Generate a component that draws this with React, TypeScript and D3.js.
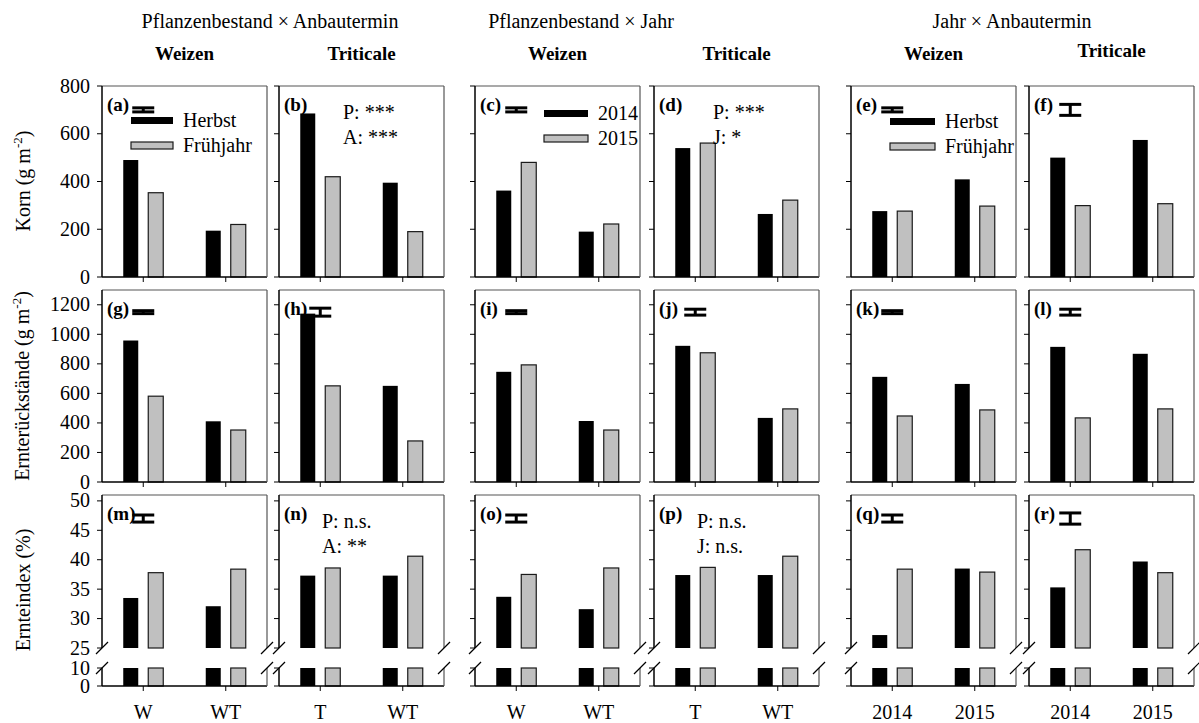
import React from "react";
import * as d3 from "d3";

// ---------- data ----------
const headers = ["Pflanzenbestand × Anbautermin", "Pflanzenbestand × Jahr", "Jahr × Anbautermin"];
const columnTitles = ["Weizen", "Triticale", "Weizen", "Triticale", "Weizen", "Triticale"];
const columnCategories = [
  ["W", "WT"],
  ["T", "WT"],
  ["W", "WT"],
  ["T", "WT"],
  ["2014", "2015"],
  ["2014", "2015"],
];
const panelLetters = [
  ["a", "b", "c", "d", "e", "f"],
  ["g", "h", "i", "j", "k", "l"],
  ["m", "n", "o", "p", "q", "r"],
];
const seriesKeys = ["dark", "light"];

// Korn (g m-2)
const kornDark = [[490, 194], [685, 395], [362, 190], [540, 264], [276, 409], [500, 574]];
const kornLight = [[353, 220], [420, 190], [480, 222], [561, 322], [276, 297], [299, 307]];
const kornLsd = [17, null, 17, null, 17, 46];
const kornTicks = [0, 200, 400, 600, 800];

// Ernterückstände (g m-2)
const rueckDark = [[958, 411], [1140, 651], [746, 413], [922, 434], [712, 664], [915, 868]];
const rueckLight = [[581, 352], [651, 278], [793, 352], [875, 495], [447, 488], [434, 495]];
const rueckLsd = [20, 54, 20, 40, 20, 40];
const rueckTicks = [0, 200, 400, 600, 800, 1000, 1200];

// Ernteindex (%)
const indexDark = [[33.5, 32.1], [37.3, 37.3], [33.7, 31.6], [37.4, 37.4], [27.2, 38.5], [35.3, 39.7]];
const indexLight = [[37.8, 38.4], [38.6, 40.6], [37.5, 38.6], [38.7, 40.6], [38.4, 37.9], [41.7, 37.8]];
const indexLsd = [1.2, null, 1.2, null, 1.2, 1.9];
const indexTicksUpper = [25, 30, 35, 40, 45, 50];
const indexTicksLower = [0, 10];

// legends and statistics text
const legendAnbau = ["Herbst", "Frühjahr"];
const legendJahr = ["2014", "2015"];
const statTexts: Record<string, string[]> = {
  b: ["P: ***", "A: ***"],
  d: ["P: ***", "J: *"],
  n: ["P: n.s.", "A: **"],
  p: ["P: n.s.", "J: n.s."],
};

// ---------- layout ----------
const FONT = "'Liberation Serif', 'Times New Roman', serif";
const W = 1199;
const H = 723;
const panelLefts = [102, 279, 475, 654, 851, 1029];
const panelW = 165;
const DARK = "#000000";
const LIGHT = "#c0c0c0";
const FRAME2 = "#555555";

const yKorn = d3.scaleLinear().domain([0, 800]).range([277, 86]);
const yRueck = d3.scaleLinear().domain([0, 1300]).range([482, 290]);
const yIdxUp = d3.scaleLinear().domain([25, 51]).range([648, 495]);
const yIdxLow = d3.scaleLinear().domain([0, 10]).range([686, 668]);

const legendPos: Record<string, { dx: number; dy: number; w: number; labels: string[] }> = {
  a: { dx: 29, dy: 31, w: 42, labels: legendAnbau },
  c: { dx: 69, dy: 24, w: 44, labels: legendJahr },
  e: { dx: 39, dy: 32, w: 45, labels: legendAnbau },
};

function App() {
  const els: React.ReactNode[] = [];

  const rows = [
    { dark: kornDark, light: kornLight, lsd: kornLsd, lsdCenter: 700, y: yKorn, ticks: kornTicks, broken: false },
    { dark: rueckDark, light: rueckLight, lsd: rueckLsd, lsdCenter: 1150, y: yRueck, ticks: rueckTicks, broken: false },
    { dark: indexDark, light: indexLight, lsd: indexLsd, lsdCenter: 47, y: yIdxUp, ticks: indexTicksUpper, broken: true },
  ];

  rows.forEach((row, r) => {
    const y = row.y;
    const top = y.range()[1];
    const bottom = row.broken ? yIdxLow(0) : y(0);
    columnCategories.forEach((cats, c) => {
      const left = panelLefts[c];
      const right = left + panelW;
      const letter = panelLetters[r][c];
      const key = `p${r}${c}`;
      const x = d3.scaleBand().domain(cats).range([left, right]);
      const xs = d3.scaleBand().domain(seriesKeys).range([-20, 20]).paddingInner(0.4);

      // bars
      cats.forEach((cat, i) => {
        const gc = (x(cat) as number) + x.bandwidth() / 2;
        seriesKeys.forEach((s) => {
          const v = s === "dark" ? row.dark[c][i] : row.light[c][i];
          const bx = gc + (xs(s) as number);
          const fill = s === "dark" ? DARK : LIGHT;
          const stroke = s === "dark" ? "none" : "#1a1a1a";
          if (!row.broken) {
            els.push(
              <rect key={`${key}b${i}${s}`} x={bx} y={y(v)} width={xs.bandwidth()} height={y(0) - y(v)}
                fill={fill} stroke={stroke} strokeWidth={1.2} />
            );
          } else {
            els.push(
              <rect key={`${key}bu${i}${s}`} x={bx} y={y(v)} width={xs.bandwidth()} height={y(25) - y(v)}
                fill={fill} stroke={stroke} strokeWidth={1.2} />
            );
            const lv = Math.min(v, 10);
            els.push(
              <rect key={`${key}bl${i}${s}`} x={bx} y={yIdxLow(lv)} width={xs.bandwidth()} height={yIdxLow(0) - yIdxLow(lv)}
                fill={fill} stroke={stroke} strokeWidth={1.2} />
            );
          }
        });
        // x ticks
        els.push(<line key={`${key}xt${i}`} x1={gc} x2={gc} y1={bottom} y2={bottom + 5} stroke="#000" strokeWidth={1} />);
        if (r === 2) {
          els.push(
            <text key={`${key}xl${i}`} x={gc} y={719} textAnchor="middle" fontSize={20} fontFamily={FONT}>{cat}</text>
          );
        }
      });

      // frame
      const gapTop = yIdxUp(25);
      const gapBot = yIdxLow(10);
      els.push(<line key={`${key}ft`} x1={left} x2={right} y1={top} y2={top} stroke={FRAME2} strokeWidth={1.2} />);
      els.push(<line key={`${key}fb`} x1={left} x2={right} y1={bottom} y2={bottom} stroke="#000" strokeWidth={1.5} />);
      if (!row.broken) {
        els.push(<line key={`${key}fl`} x1={left} x2={left} y1={top} y2={bottom} stroke="#000" strokeWidth={1.5} />);
        els.push(<line key={`${key}fr`} x1={right} x2={right} y1={top} y2={bottom} stroke={FRAME2} strokeWidth={1.2} />);
      } else {
        els.push(<line key={`${key}fl1`} x1={left} x2={left} y1={top} y2={gapTop} stroke="#000" strokeWidth={1.5} />);
        els.push(<line key={`${key}fl2`} x1={left} x2={left} y1={gapBot} y2={bottom} stroke="#000" strokeWidth={1.5} />);
        els.push(<line key={`${key}fr1`} x1={right} x2={right} y1={top} y2={gapTop} stroke={FRAME2} strokeWidth={1.2} />);
        els.push(<line key={`${key}fr2`} x1={right} x2={right} y1={gapBot} y2={bottom} stroke={FRAME2} strokeWidth={1.2} />);
        [left, right].forEach((bxp, k) => {
          [gapTop, gapBot].forEach((gy, m) => {
            els.push(
              <line key={`${key}brk${k}${m}`} x1={bxp - 6} y1={gy + 6} x2={bxp + 6} y2={gy - 6} stroke="#000" strokeWidth={1.2} />
            );
          });
        });
      }

      // y ticks
      const tickSets = row.broken
        ? [
            { s: yIdxUp, t: indexTicksUpper },
            { s: yIdxLow, t: indexTicksLower },
          ]
        : [{ s: y, t: row.ticks }];
      tickSets.forEach((ts, k) => {
        ts.t.forEach((t) => {
          const ty = ts.s(t);
          els.push(<line key={`${key}yt${k}${t}`} x1={left - 5} x2={left} y1={ty} y2={ty} stroke="#000" strokeWidth={1} />);
          if (c === 0) {
            els.push(
              <text key={`${key}yl${k}${t}`} x={left - 12} y={ty + 6.5} textAnchor="end" fontSize={20} fontFamily={FONT}>{t}</text>
            );
          }
        });
      });

      // panel letter
      els.push(
        <text key={`${key}lab`} x={left + 5} y={top + 25} fontSize={19} fontWeight="bold" fontFamily={FONT}>({letter})</text>
      );

      // LSD bar
      const lsd = row.lsd[c];
      if (lsd != null) {
        const cx = (x(cats[0]) as number) + x.bandwidth() / 2;
        const y1 = y(row.lsdCenter + lsd / 2);
        const y2 = y(row.lsdCenter - lsd / 2);
        els.push(
          <g key={`${key}lsd`} stroke="#000" strokeWidth={3}>
            <line x1={cx - 11} x2={cx + 11} y1={y1} y2={y1} />
            <line x1={cx - 11} x2={cx + 11} y1={y2} y2={y2} />
            <line x1={cx} x2={cx} y1={y1} y2={y2} />
          </g>
        );
      }

      // legend
      const lg = legendPos[letter];
      if (lg) {
        lg.labels.forEach((lab, k) => {
          const ry = top + lg.dy + k * 25;
          els.push(
            <rect key={`${key}lgr${k}`} x={left + lg.dx} y={ry} width={lg.w} height={7}
              fill={k === 0 ? DARK : LIGHT} stroke={k === 0 ? "none" : "#1a1a1a"} strokeWidth={1.2} />
          );
          els.push(
            <text key={`${key}lgt${k}`} x={left + lg.dx + lg.w + 10} y={ry + 10} fontSize={20} fontFamily={FONT}>{lab}</text>
          );
        });
      }

      // statistics text
      const st = statTexts[letter];
      if (st) {
        const sx = r === 0 ? (c === 1 ? 64 : 59) : 43;
        st.forEach((s, k) => {
          els.push(
            <text key={`${key}st${k}`} x={left + sx} y={top + 33 + k * 25} fontSize={20} fontFamily={FONT}>{s}</text>
          );
        });
      }

      // column titles
      if (r === 0) {
        els.push(
          <text key={`${key}title`} x={(left + right) / 2} y={c === 5 ? 57 : 60} textAnchor="middle" fontSize={19}
            fontWeight="bold" fontFamily={FONT}>{columnTitles[c]}</text>
        );
      }
    });
  });

  // headers
  const headerX = [270, 581, 1012];
  headers.forEach((h, i) => {
    els.push(
      <text key={`hd${i}`} x={headerX[i]} y={28} textAnchor="middle" fontSize={20} fontFamily={FONT}>{h}</text>
    );
  });

  // y axis labels
  const yLabels = [
    { cx: 30, cy: 181, main: "Korn (g m", sup: "-2", tail: ")" },
    { cx: 29, cy: 386, main: "Ernterückstände (g m", sup: "-2", tail: ")" },
    { cx: 30, cy: 590, main: "Ernteindex (%)", sup: "", tail: "" },
  ];
  yLabels.forEach((l, i) => {
    els.push(
      <text key={`yl${i}`} transform={`translate(${l.cx},${l.cy}) rotate(-90)`} textAnchor="middle" fontSize={20} fontFamily={FONT}>
        {l.main}
        {l.sup ? <tspan dy={-8} fontSize={13}>{l.sup}</tspan> : null}
        {l.tail ? <tspan dy={8}>{l.tail}</tspan> : null}
      </text>
    );
  });

  return (
    <div style={{ position: "absolute", left: 0, top: 0 }}>
      <svg width={W} height={H} style={{ display: "block", background: "#fff" }}>
        {els}
      </svg>
    </div>
  );
}

export default App;
